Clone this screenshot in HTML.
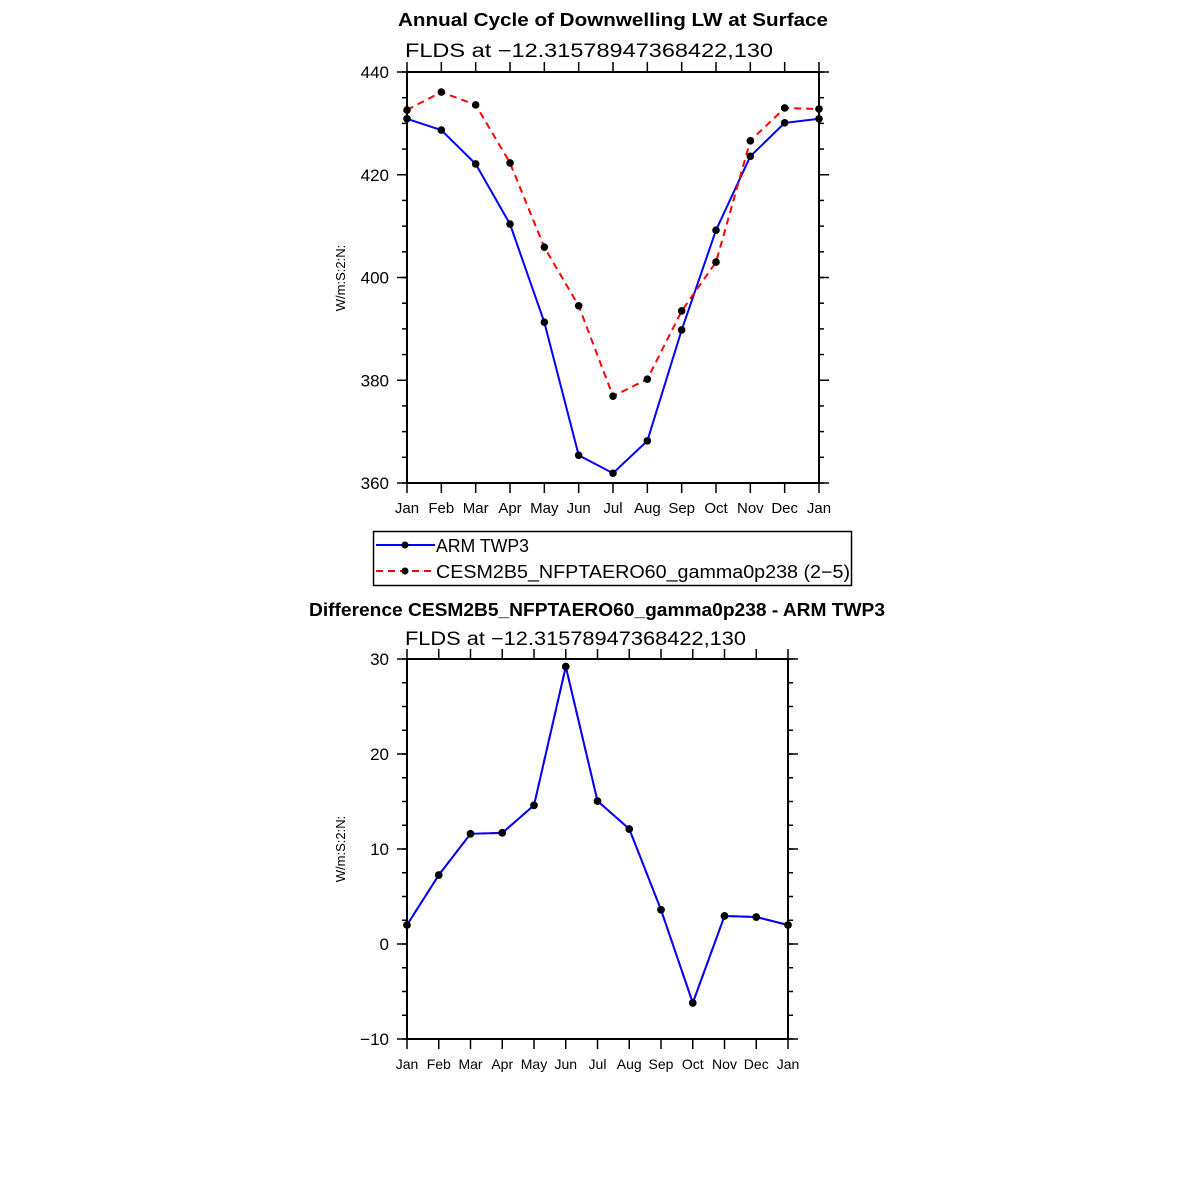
<!DOCTYPE html>
<html><head><meta charset="utf-8"><style>
html,body{margin:0;padding:0;background:#fff;}
svg{display:block;font-family:"Liberation Sans",sans-serif;}
</style></head><body>
<svg id="chart" width="1183" height="1183" viewBox="0 0 1183 1183" xmlns="http://www.w3.org/2000/svg">
<text x="398" y="26" font-size="18" font-weight="bold" textLength="430" lengthAdjust="spacingAndGlyphs">Annual Cycle of Downwelling LW at Surface</text>
<text x="405" y="57" font-size="19" textLength="368" lengthAdjust="spacingAndGlyphs">FLDS at −12.31578947368422,130</text>
<text transform="translate(345,278) rotate(-90)" font-size="13" text-anchor="middle">W/m:S:2:N:</text>
<g id="topPlot"></g>
<g>
<rect x="373.5" y="531.5" width="478" height="54" fill="none" stroke="#000" stroke-width="1.5"/>
<line x1="376" y1="545" x2="435" y2="545" stroke="#00f" stroke-width="2"/>
<circle cx="405" cy="545" r="3.5" fill="#000"/>
<text x="436" y="552" font-size="18" textLength="93" lengthAdjust="spacingAndGlyphs">ARM TWP3</text>
<line x1="376" y1="571" x2="435" y2="571" stroke="#f00" stroke-width="2" stroke-dasharray="7,5"/>
<circle cx="405" cy="571" r="3.5" fill="#000"/>
<text x="436" y="578" font-size="18" textLength="414" lengthAdjust="spacingAndGlyphs">CESM2B5_NFPTAERO60_gamma0p238 (2−5)</text>
</g>
<text x="309" y="616" font-size="18" font-weight="bold" textLength="576" lengthAdjust="spacingAndGlyphs">Difference CESM2B5_NFPTAERO60_gamma0p238 - ARM TWP3</text>
<text x="405" y="645" font-size="19" textLength="341" lengthAdjust="spacingAndGlyphs">FLDS at −12.31578947368422,130</text>
<text transform="translate(345,849) rotate(-90)" font-size="13" text-anchor="middle">W/m:S:2:N:</text>
<g id="botPlot"></g>
</svg>
<script>
const months = ["Jan","Feb","Mar","Apr","May","Jun","Jul","Aug","Sep","Oct","Nov","Dec","Jan"];
const armValues = [430.9,428.7,422.1,410.4,391.3,365.4,361.9,368.2,389.8,409.2,423.6,430.1,430.9];
const cesmValues = [432.6,436.1,433.6,422.3,405.9,394.5,376.9,380.2,393.5,403.0,426.6,433.0,432.8];
const diffValues = [2.0,7.26,11.6,11.7,14.6,29.2,15.05,12.1,3.6,-6.2,2.95,2.84,2.0];
const topTicks = [360,380,400,420,440];
const botTicks = [-10,0,10,20,30];

const NS="http://www.w3.org/2000/svg";
function mk(parent,tag,attrs){const e=document.createElementNS(NS,tag);for(const k in attrs)e.setAttribute(k,attrs[k]);parent.appendChild(e);return e;}

function drawPanel(g,cfg){
  const {x0,x1,y0,y1,ymin,ymax,ticks,minor,labelSize}=cfg;
  const n=months.length-1;
  const xs=i=>x0+(x1-x0)*i/n;
  const ys=v=>y1-(v-ymin)/(ymax-ymin)*(y1-y0);
  months.forEach((m,i)=>{
    const x=xs(i);
    const t1=mk(g,'line',{x1:x,y1:y1,x2:x,y2:y1+10,stroke:'#000','stroke-width':1.5});
    
    
    mk(g,'line',{x1:x,y1:y0,x2:x,y2:y0-10,stroke:'#000','stroke-width':1.5});
    const t=mk(g,'text',{x:x,y:y1+30,'font-size':labelSize,'text-anchor':'middle'});
    t.textContent=m;
    
    
  });
  for(let v=ymin;v<=ymax+1e-9;v+=minor){
    const y=ys(v);
    mk(g,'line',{x1:x0-5,y1:y,x2:x0,y2:y,stroke:'#000','stroke-width':1.5});
    mk(g,'line',{x1:x1,y1:y,x2:x1+5,y2:y,stroke:'#000','stroke-width':1.5});
  }
  ticks.forEach(v=>{
    const y=ys(v);
    mk(g,'line',{x1:x0-10,y1:y,x2:x0,y2:y,stroke:'#000','stroke-width':1.5});
    mk(g,'line',{x1:x1,y1:y,x2:x1+10,y2:y,stroke:'#000','stroke-width':1.5});
    const t=mk(g,'text',{x:x0-18,y:y+6,'font-size':17,'text-anchor':'end'});
    t.textContent=(v<0?'−'+Math.abs(v):String(v));
    
    
  });
  const f=mk(g,'rect',{x:x0,y:y0,width:x1-x0,height:y1-y0,fill:'none',stroke:'#000','stroke-width':2});
  
  
  return {xs,ys};
}
function series(g,ax,vals,color,dash,name){
  const pts=vals.map((v,i)=>ax.xs(i).toFixed(1)+','+ax.ys(v).toFixed(1)).join(' ');
  const p=mk(g,'polyline',{points:pts,fill:'none',stroke:color,'stroke-width':2});
  if(dash)p.setAttribute('stroke-dasharray',dash);
  
  
  vals.forEach((v,i)=>{
    const c=mk(g,'circle',{cx:ax.xs(i),cy:ax.ys(v),r:3.8,fill:'#000'});
    
    
  });
}
const topG=document.getElementById('topPlot');
const axT=drawPanel(topG,{x0:407,x1:819,y0:72,y1:483,ymin:360,ymax:440,ticks:topTicks,minor:5,labelSize:15});
series(topG,axT,armValues,'#00f',null,'arm');
series(topG,axT,cesmValues,'#f00','7,5','cesm');
const botG=document.getElementById('botPlot');
const axB=drawPanel(botG,{x0:407,x1:788,y0:659,y1:1039,ymin:-10,ymax:30,ticks:botTicks,minor:2.5,labelSize:14});
series(botG,axB,diffValues,'#f00','7,5','diff-dashed');
series(botG,axB,diffValues,'#00f',null,'diff');
</script>
</body></html>
